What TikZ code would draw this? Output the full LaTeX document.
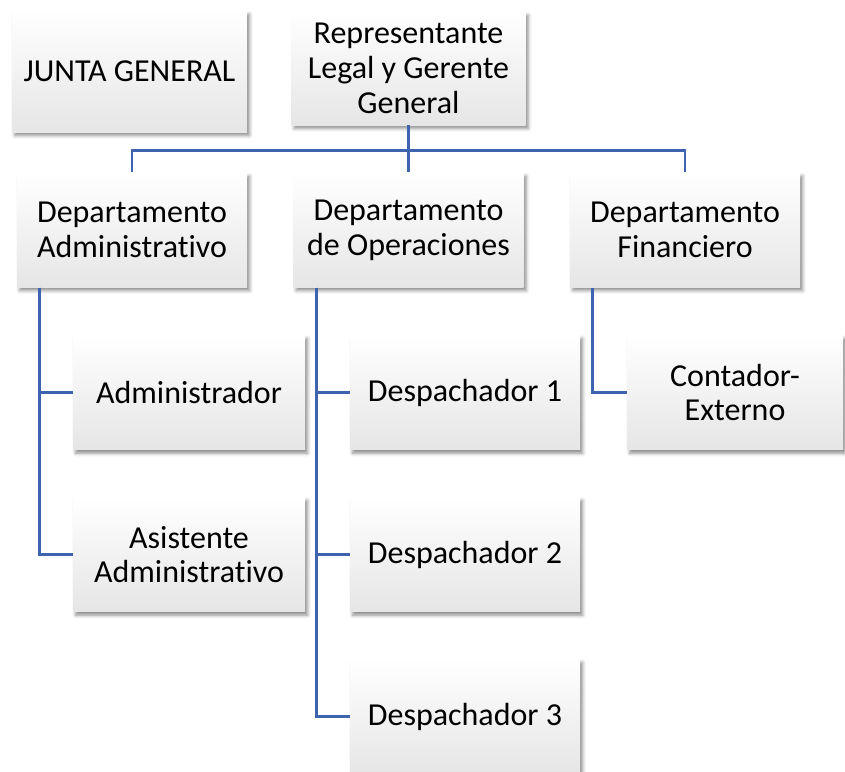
\documentclass[tikz,border=0pt]{standalone}
\usepackage{fontspec}
\setmainfont{Carlito}[Ligatures=NoCommon]
\usepackage{tikz}
\usetikzlibrary{shadows.blur,positioning}

\definecolor{linkblue}{RGB}{62,100,175}

\tikzset{
	orgbox/.style={rectangle,inner sep=0pt,align=center,
		top color=white,bottom color=black!10,
		minimum width=172.5pt,minimum height=86pt,
		font=\fontsize{24}{26}\selectfont,
		blur shadow={shadow xshift=2pt,shadow yshift=-2.5pt,shadow blur radius=2.5pt,shadow opacity=45}},
	link/.style={draw=linkblue,line width=2pt}
}

\begin{document}
\begin{tikzpicture}[x=0.75pt,y=-0.75pt]
			\useasboundingbox (0,0) rectangle (845,771);

			\begin{scope}[every node/.style={orgbox}]
				\node[minimum width=176pt,minimum height=91pt] (junta) at (129.5,71.5) {JUNTA GENERAL};
				\node[minimum width=175.5pt,minimum height=85pt] (rep) at (408.5,68.5) {Representante\\Legal y Gerente\\General};
				\node (depadm) at (132,230) {Departamento\\Administrativo};
				\node (depop) at (408.5,230) {Departamento\\de Operaciones};
				\node (depfin) at (685,230) {Departamento\\Financiero};
				\node[minimum width=174pt] (admin) at (189,392.5) {Administrador};
				\node[minimum width=174pt] (asist) at (189,554.5) {Asistente\\Administrativo};
				\node (desp1) at (465,392.5) {Despachador 1};
				\node (desp2) at (465,554.5) {Despachador 2};
				\node (desp3) at (465,716.5) {Despachador 3};
				\node[minimum width=162pt] (cont) at (735,392.5) {Contador-\\Externo};
			\end{scope}

			\begin{scope}[every path/.style={link}]
				\path (rep.south) edge (depop.north);
				\draw (rep.south) -- ++(0,25) -| (depadm.north);
				\draw (rep.south) -- ++(0,25) -| (depfin.north);
				\draw ([xshift=17.25pt]depadm.south west) |- (admin.west);
				\draw ([xshift=17.25pt]depadm.south west) |- (asist.west);
				\draw ([xshift=17.25pt]depop.south west) |- (desp1.west);
				\draw ([xshift=17.25pt]depop.south west) |- (desp2.west);
				\draw ([xshift=17.25pt]depop.south west) |- (desp3.west);
				\draw ([xshift=17.25pt]depfin.south west) |- (cont.west);
			\end{scope}
		\end{tikzpicture}
\end{document}
